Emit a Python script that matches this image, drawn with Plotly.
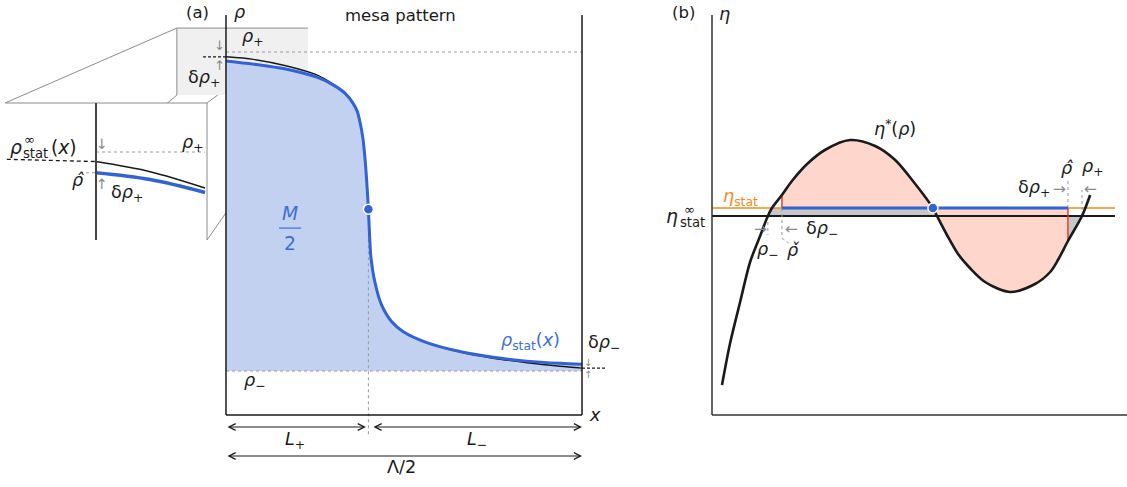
import plotly.graph_objects as go

W, H = 1127, 487
FONT = "DejaVu Sans"
INK = "#1a1a1a"
BLUE = "#3063d4"
BLUE_TXT = "#3a6fd8"
BLUE_FILL = "#c2d1f0"
PINK = "#ffd6cc"
GRAYFILL = "#c8c8c8"
ORANGE = "#f28a1e"
RED = "#e3341c"
DOTC = "#9a9a9a"
ARR = "#8a8a8a"
FRAME = "#8c8c8c"

# ---------------- panel (a): mesa profile (x in units of Lambda/2, rho: rho_- = 0, rho_+ = 1)
x_a = [0.0, 0.077, 0.171, 0.255, 0.301, 0.334, 0.357, 0.369, 0.376, 0.384, 0.390, 0.395, 0.400,
       0.403, 0.407, 0.419, 0.437, 0.465, 0.498, 0.564, 0.657, 0.750, 0.845, 0.938, 1.0]
rho_stat_a = [0.972, 0.962, 0.946, 0.921, 0.897, 0.871, 0.839, 0.813, 0.782, 0.734, 0.672, 0.599, 0.507,
              0.432, 0.358, 0.275, 0.207, 0.155, 0.123, 0.089, 0.061, 0.043, 0.031, 0.024, 0.021]
rho_inf_a = [0.985, 0.977, 0.956, 0.928, 0.899, 0.871, 0.839, 0.813, 0.782, 0.734, 0.672, 0.599, 0.507,
             0.432, 0.358, 0.275, 0.207, 0.155, 0.123, 0.089, 0.060, 0.040, 0.026, 0.015, 0.009]
rho_plus_a, rho_minus_a = 1.0, 0.0
x_int, rho_int = 0.400, 0.507
box_bottom, box_top = -0.138, 1.116
arrow_row1, arrow_row2 = -0.1755, -0.2665
L_plus_end, L_minus_start = 0.393, 0.410

# zoomed region shown in the inset (panel-a coordinates)
zoom_x = [-0.138, 0.230]
zoom_rho = [0.865, 1.075]

# ---------------- inset: close-up near x = 0
x_in = [0.0, 0.109, 0.220]
rho_inf_in = [0.983, 0.965, 0.936]
rho_stat_in = [0.963, 0.951, 0.928]
rho_plus_in, rho_hat_in = 1.0, 0.963

# ---------------- panel (b): eta*(rho)
rho_b = [0.027, 0.049, 0.076, 0.103, 0.130, 0.151, 0.162, 0.189, 0.216, 0.257, 0.305, 0.373, 0.441,
         0.495, 0.543, 0.597, 0.608, 0.635, 0.665, 0.697, 0.738, 0.805, 0.873, 0.914, 0.935, 0.962,
         1.000, 1.022]
eta_b = [0.150, 0.360, 0.565, 0.765, 0.895, 0.995, 1.035, 1.100, 1.170, 1.255, 1.325, 1.375, 1.345,
         1.275, 1.170, 1.035, 0.995, 0.900, 0.805, 0.735, 0.665, 0.615, 0.655, 0.715, 0.775, 0.870,
         0.995, 1.100]
eta_stat, eta_inf = 1.035, 0.995
I_MINUS, I_STATX, I_CHECK, I_DOT, I_INFX, I_HAT, I_PLUS = 5, 6, 7, 15, 16, 25, 26
line_end_b = 1.089

# ---------------- axes geometry
A_dom, A_xr, A_yr = [0.0, 640 / W], [-0.6348, 1.1629], [-0.3636, 1.1630]
B_dom, B_xr, B_yr = [640 / W, 1.0], [-0.1946, 1.1216], [-0.36, 2.075]
I_domx, I_domy = [5 / W, 207 / W], [1 - 240 / H, 1 - 103 / H]
I_xr, I_yr = [-0.1837, 0.2240], [0.8434, 1.0872]


def a2p(x, r):
    px = A_dom[0] + (x - A_xr[0]) / (A_xr[1] - A_xr[0]) * (A_dom[1] - A_dom[0])
    py = (r - A_yr[0]) / (A_yr[1] - A_yr[0])
    return px, py


fig = go.Figure()


def line(x, y, color, width, dash=None, ax="a", shape="linear", smoothing=1.0):
    xa, ya = {"a": ("x", "y"), "b": ("x2", "y2"), "i": ("x3", "y3")}[ax]
    ln = dict(color=color, width=width, dash=dash, shape=shape)
    if shape == "spline":
        ln["smoothing"] = smoothing
    fig.add_trace(go.Scatter(x=x, y=y, mode="lines", xaxis=xa, yaxis=ya, hoverinfo="skip",
                             showlegend=False, line=ln))


# ---- panel (a) traces
fig.add_trace(go.Scatter(x=x_a, y=rho_stat_a, mode="lines", fill="tozeroy", fillcolor=BLUE_FILL,
                         line=dict(width=0, shape="spline", smoothing=0.8), hoverinfo="skip",
                         showlegend=False, xaxis="x", yaxis="y"))
line([0, 1], [rho_plus_a, rho_plus_a], DOTC, 1, "dot")
line([0, 1], [rho_minus_a, rho_minus_a], DOTC, 1, "dot")
line([x_int, x_int], [rho_int, -0.207], DOTC, 1, "dot")
line([-0.0646, 0], [rho_inf_a[0], rho_inf_a[0]], INK, 1.3, "3px,2px")
line([1.0, 1.0646], [rho_inf_a[-1], rho_inf_a[-1]], INK, 1.3, "3px,2px")
line(x_a, rho_inf_a, INK, 1.4, shape="spline", smoothing=0.8)
line(x_a, rho_stat_a, BLUE, 3, shape="spline", smoothing=0.8)
fig.add_trace(go.Scatter(x=[x_int], y=[rho_int], mode="markers", xaxis="x", yaxis="y",
                         marker=dict(size=10, color=BLUE, line=dict(color="white", width=1.5)),
                         hoverinfo="skip", showlegend=False))

# ---- inset traces
line([-0.18, 0], [0.987, rho_inf_in[0]], INK, 1.3, "4px,3px", ax="i")
line([0, x_in[-1]], [rho_plus_in, rho_plus_in], DOTC, 1, "dot", ax="i")
line([-0.0202, 0], [rho_hat_in, rho_hat_in], DOTC, 1, "dot", ax="i")
line(x_in, rho_inf_in, INK, 1.6, ax="i", shape="spline")
line(x_in, rho_stat_in, BLUE, 3.5, ax="i", shape="spline")
line([0, 0], I_yr, "#444", 2, ax="i")

# ---- panel (b) traces
fig.add_trace(go.Scatter(x=[rho_b[I_MINUS], rho_b[I_STATX], rho_b[I_DOT], rho_b[I_INFX]],
                         y=[eta_inf, eta_stat, eta_stat, eta_inf], fill="toself", fillcolor=GRAYFILL,
                         mode="lines", line=dict(width=0), xaxis="x2", yaxis="y2",
                         hoverinfo="skip", showlegend=False))
fig.add_trace(go.Scatter(x=[rho_b[I_HAT], rho_b[I_PLUS], rho_b[I_HAT]],
                         y=[eta_b[I_HAT], eta_inf, eta_inf], fill="toself", fillcolor=GRAYFILL,
                         mode="lines", line=dict(width=0), xaxis="x2", yaxis="y2",
                         hoverinfo="skip", showlegend=False))
SM_B = 0.85
for i0, i1 in [(I_CHECK, I_DOT), (I_DOT, I_HAT)]:
    xs = rho_b[i0:i1 + 1]
    fig.add_trace(go.Scatter(x=[xs[0], xs[-1]], y=[eta_stat, eta_stat], mode="lines",
                             line=dict(width=0), xaxis="x2", yaxis="y2", hoverinfo="skip",
                             showlegend=False))
    fig.add_trace(go.Scatter(x=xs, y=eta_b[i0:i1 + 1], mode="lines", fill="tonexty",
                             fillcolor=PINK, line=dict(width=0, shape="spline", smoothing=SM_B),
                             xaxis="x2", yaxis="y2", hoverinfo="skip", showlegend=False))
line([0, line_end_b], [eta_stat, eta_stat], ORANGE, 1.6, ax="b")
line([0, line_end_b], [eta_inf, eta_inf], INK, 1.8, ax="b")
line([rho_b[I_CHECK]] * 2, [eta_stat, eta_b[I_CHECK]], RED, 1.4, ax="b")
line([rho_b[I_HAT]] * 2, [eta_stat, eta_b[I_HAT]], RED, 1.4, ax="b")
line([rho_b[I_MINUS]] * 2, [eta_inf, 0.90], DOTC, 1, "dot", ax="b")
line([rho_b[I_CHECK]] * 2 + [0.207], [eta_stat, 0.885, 0.86], DOTC, 1, "dot", ax="b")
line([rho_b[I_HAT]] * 2, [eta_stat, 1.175], DOTC, 1, "dot", ax="b")
line([rho_b[I_PLUS]] * 2, [eta_inf, 1.125], DOTC, 1, "dot", ax="b")
line(rho_b, eta_b, INK, 2.6, ax="b", shape="spline", smoothing=SM_B)
line([rho_b[I_CHECK], rho_b[I_HAT]], [eta_stat, eta_stat], BLUE, 3, ax="b")
fig.add_trace(go.Scatter(x=[rho_b[I_DOT]], y=[eta_b[I_DOT]], mode="markers", xaxis="x2", yaxis="y2",
                         marker=dict(size=10, color=BLUE, line=dict(color="white", width=1.5)),
                         hoverinfo="skip", showlegend=False))

# ---------------- shapes
shapes = []


def pline(p0, p1, color=FRAME, width=1):
    shapes.append(dict(type="line", xref="paper", yref="paper", x0=p0[0], y0=p0[1], x1=p1[0], y1=p1[1],
                       line=dict(color=color, width=width), layer="below"))


# perspective lines from the zoom box to the inset box (partly hidden behind boxes)
zTL, zTR = a2p(zoom_x[0], zoom_rho[1]), a2p(zoom_x[1], zoom_rho[1])
zBL, zBR = a2p(zoom_x[0], zoom_rho[0]), a2p(zoom_x[1], zoom_rho[0])
iTL, iTR = (I_domx[0], I_domy[1]), (I_domx[1], I_domy[1])
iBL, iBR = (I_domx[0], I_domy[0]), (I_domx[1], I_domy[0])
for p0, p1 in [(zTL, iTL), (zTR, iTR), (zBL, iBL), (zBR, iBR)]:
    pline(p0, p1)
shapes.append(dict(type="rect", xref="paper", yref="paper", x0=iBL[0], y0=iBL[1], x1=iTR[0], y1=iTR[1],
                   fillcolor="white", line=dict(width=0), layer="below"))
pline(iTL, iTR)
pline(iTR, iBR)
# panel (a) opaque plot area and grey zoom window
shapes.append(dict(type="rect", xref="x", yref="y", x0=0, x1=1, y0=box_bottom, y1=box_top,
                   fillcolor="white", line=dict(width=0), layer="below"))
shapes.append(dict(type="rect", xref="x", yref="y", x0=zoom_x[0], x1=zoom_x[1], y0=zoom_rho[0],
                   y1=zoom_rho[1], fillcolor="#f0f0f0", line=dict(width=0), layer="below"))
for (x0, y0, x1, y1) in [(zoom_x[0], zoom_rho[1], zoom_x[1], zoom_rho[1]),
                         (zoom_x[0], zoom_rho[0], zoom_x[0], zoom_rho[1])]:
    shapes.append(dict(type="line", xref="x", yref="y", x0=x0, y0=y0, x1=x1, y1=y1,
                       line=dict(color=FRAME, width=1), layer="below"))
# frames / axis lines
for (x0, y0, x1, y1) in [(0, box_bottom, 0, box_top), (1, box_bottom, 1, box_top), (0, box_bottom, 1, box_bottom)]:
    shapes.append(dict(type="line", xref="x", yref="y", x0=x0, y0=y0, x1=x1, y1=y1,
                       line=dict(color=INK, width=1.5), layer="above"))
for (x0, y0, x1, y1) in [(0, 0, 0, 2.0), (0, 0, B_xr[1], 0)]:
    shapes.append(dict(type="line", xref="x2", yref="y2", x0=x0, y0=y0, x1=x1, y1=y1,
                       line=dict(color="#333", width=1.5), layer="above"))
shapes.append(dict(type="line", xref="x", yref="y", x0=0.149, x1=0.211, y0=0.448, y1=0.448,
                   line=dict(color=BLUE_TXT, width=1.2), layer="above"))

# ---------------- annotations
anns = []
REF = {"a": ("x", "y"), "b": ("x2", "y2"), "i": ("x3", "y3")}
S = 1.1


def T(text, x, y, ax="a", size=15, color=INK, xanchor="center", yanchor="middle"):
    xr, yr = REF[ax]
    anns.append(dict(text=text, x=x, y=y, xref=xr, yref=yr, showarrow=False, xanchor=xanchor,
                     yanchor=yanchor, font=dict(family=FONT, size=round(size * S, 1), color=color)))


# panel (a)
T("(a)", -0.081, 1.125)
T("<i>ρ</i>", 0.039, 1.125, size=16)
T("mesa pattern", 0.489, 1.113)
T("<i>ρ</i><sub>+</sub>", 0.076, 1.044, size=16)
T("δ<i>ρ</i><sub>+</sub>", -0.011, 0.918, size=16, xanchor="right")
T("↓", -0.017, 1.019, size=12, color=ARR)
T("↑", -0.017, 0.959, size=12, color=ARR)
T("<i>M</i>", 0.180, 0.495, size=17, color=BLUE_TXT)
T("2", 0.180, 0.401, size=17, color=BLUE_TXT)
T("<i>ρ</i><sub>stat</sub>(<i>x</i>)", 0.854, 0.091, size=16, color=BLUE_TXT)
T("δ<i>ρ</i><sub>−</sub>", 1.011, 0.085, size=16, xanchor="left")
T("↓", 1.017, 0.028, size=9, color=ARR)
T("↑", 1.017, -0.012, size=9, color=ARR)
T("<i>ρ</i><sub>−</sub>", 0.081, -0.034, size=16)
T("<i>x</i>", 1.037, -0.138, size=16)
T("<i>L</i><sub>+</sub>", 0.194, -0.219, size=16)
T("<i>L</i><sub>−</sub>", 0.705, -0.219, size=16)
T("Λ/2", 0.494, -0.301, size=16)
for (xa, xb, yy) in [(0, L_plus_end, arrow_row1), (L_minus_start, 1, arrow_row1), (0, 1, arrow_row2)]:
    anns.append(dict(text="", x=xb, y=yy, ax=xa, ay=yy, xref="x", yref="y", axref="x", ayref="y",
                     showarrow=True, arrowhead=5, startarrowhead=5, arrowside="end+start",
                     arrowsize=1.1, startarrowsize=1.1, arrowwidth=1.2, arrowcolor=INK))

# inset
T("<i>ρ</i><sub>+</sub>", 0.196, 1.016, ax="i", size=16)
T("↓", 0.0115, 1.014, ax="i", size=13, color=ARR)
T("↑", 0.0115, 0.943, ax="i", size=13, color=ARR)
T("<i>ρ\u0302</i>", -0.0363, 0.950, ax="i", size=16)
T("δ<i>ρ</i><sub>+</sub>", 0.0626, 0.927, ax="i", size=16)
T("<i>ρ</i>", -0.1615, 1.0089, ax="i", size=17)
T("∞", -0.1352, 1.0231, ax="i", size=12)
T("stat", -0.1231, 0.9982, ax="i", size=12)
T("(<i>x</i>)", -0.0646, 1.0089, ax="i", size=17)

# panel (b)
T("(b)", -0.078, 2.015, ax="b")
T("<i>η</i>", 0.035, 2.005, ax="b", size=16)
T("<i>η</i><sup>*</sup>(<i>ρ</i>)", 0.495, 1.435, ax="b", size=16)
T("<i>η</i><sub>stat</sub>", 0.076, 1.09, ax="b", size=16, color=ORANGE)
T("<i>η</i>", -0.107, 0.995, ax="b", size=17)
T("∞", -0.062, 1.028, ax="b", size=12)
T("stat", -0.054, 0.962, ax="b", size=12)
T("<i>ρ</i><sub>−</sub>", 0.151, 0.825, ax="b", size=16)
T("<i>ρ\u030C</i>", 0.218, 0.825, ax="b", size=16)
T("δ<i>ρ</i><sub>−</sub>", 0.296, 0.93, ax="b", size=16)
T("→", 0.132, 0.93, ax="b", size=14, color=ARR)
T("←", 0.214, 0.93, ax="b", size=14, color=ARR)
T("δ<i>ρ</i><sub>+</sub>", 0.870, 1.135, ax="b", size=16)
T("<i>ρ\u0302</i>", 0.959, 1.235, ax="b", size=16)
T("<i>ρ</i><sub>+</sub>", 1.030, 1.24, ax="b", size=16)
T("→", 0.940, 1.13, ax="b", size=14, color=ARR)
T("←", 1.024, 1.13, ax="b", size=14, color=ARR)

hid = dict(visible=False, fixedrange=True)
fig.update_layout(
    width=W, height=H, autosize=False, margin=dict(l=0, r=0, t=0, b=0),
    paper_bgcolor="white", plot_bgcolor="rgba(0,0,0,0)", showlegend=False,
    xaxis=dict(domain=A_dom, range=A_xr, anchor="y", **hid),
    yaxis=dict(domain=[0, 1], range=A_yr, anchor="x", **hid),
    xaxis2=dict(domain=B_dom, range=B_xr, anchor="y2", **hid),
    yaxis2=dict(domain=[0, 1], range=B_yr, anchor="x2", **hid),
    xaxis3=dict(domain=I_domx, range=I_xr, anchor="y3", **hid),
    yaxis3=dict(domain=I_domy, range=I_yr, anchor="x3", **hid),
    shapes=shapes, annotations=anns,
    font=dict(family=FONT, size=15, color=INK),
)

fig.write_html("out.html", config={"displayModeBar": False},
               post_script="document.body.style.margin='0';")
